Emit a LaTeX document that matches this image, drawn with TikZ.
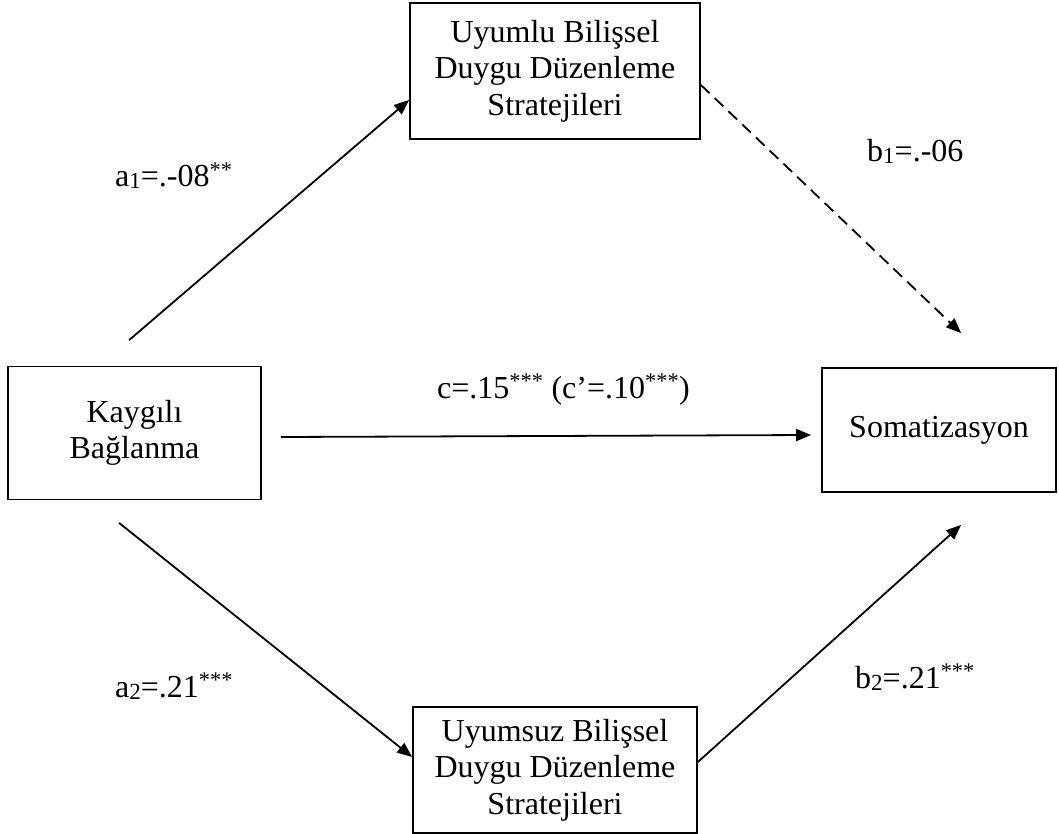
\documentclass[tikz,border=0pt]{standalone}
\usepackage{fontspec}
\setmainfont{Liberation Serif}
\usetikzlibrary{arrows.meta}
\newcommand{\lowidx}[1]{\raisebox{-2pt}{\fontsize{23}{23}\selectfont #1}}
\tikzset{
  varbox/.style args={#1/#2}{
    draw, line width=1.8pt, align=center, inner sep=0pt,
    minimum width=#1pt, minimum height=#2pt,
    font=\fontsize{32}{36.5}\selectfont
  },
  effect/.style={
    -{Triangle[length=15pt,width=12pt]}, line width=1.8pt
  },
  weakeffect/.style={
    effect, dash pattern=on 12pt off 7pt
  },
  coef/.style={
    anchor=base west, inner sep=0pt,
    font=\fontsize{32}{36.5}\selectfont
  }
}

\begin{document}
\begin{tikzpicture}[x=1pt,y=-1pt]
  \useasboundingbox (0,0) rectangle (1059,834);

  % Variables
  \node[varbox=290/136] (adaptive) at (555,71) {Uyumlu Bilişsel\\Duygu Düzenleme\\Stratejileri};
  \node[varbox=253/133] (anxious) at (134.5,433) {Kaygılı\\Bağlanma};
  \node[varbox=234/124] (somat) at (939,430) {Somatizasyon};
  \node[varbox=284/126] (maladaptive) at (555,770) {Uyumsuz Bilişsel\\Duygu Düzenleme\\Stratejileri};

  % Paths
  \draw[effect] ([xshift=122pt,yshift=25.5pt]anxious.north west) -- ([yshift=-29pt]adaptive.west);
  \draw[weakeffect] ([yshift=-14pt]adaptive.east) -- ([xshift=140pt,yshift=34pt]somat.north west);
  \draw[effect] ([xshift=19pt,yshift=-4pt]anxious.east) -- ([xshift=-10pt,yshift=-5pt]somat.west);
  \draw[effect] ([xshift=112pt,yshift=-22.5pt]anxious.south west) -- ([yshift=13pt]maladaptive.west);
  \draw[effect] ([yshift=8pt]maladaptive.east) -- ([xshift=140pt,yshift=-32pt]somat.south west);

  % Coefficients
  \node[coef] (ca1) at (115,187) {a\lowidx{1}=.-08\textsuperscript{**}};
  \node[coef] (cb1) at (867,162) {b\lowidx{1}=.-06};
  \node[coef] (cc) at (437,398) {c=.15\textsuperscript{***} (c’=.10\textsuperscript{***})};
  \node[coef] (ca2) at (115,697) {a\lowidx{2}=.21\textsuperscript{***}};
  \node[coef] (cb2) at (855,688) {b\lowidx{2}=.21\textsuperscript{***}};
\end{tikzpicture}
\end{document}
